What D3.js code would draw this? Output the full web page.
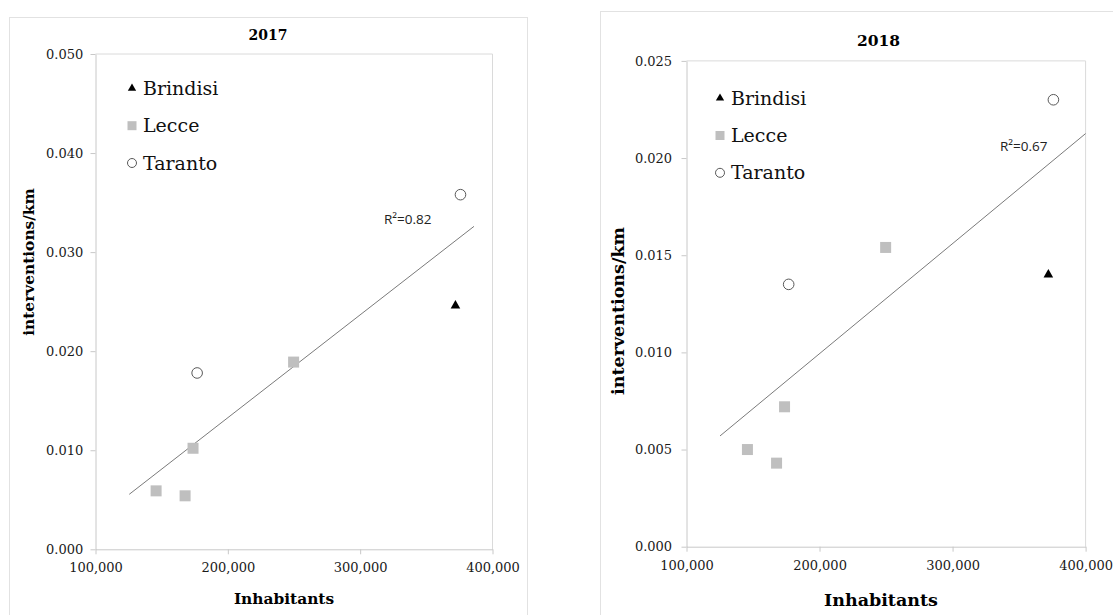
<!DOCTYPE html>
<html>
<head>
<meta charset="utf-8">
<script src="https://cdn.jsdelivr.net/npm/d3@7"></script>
<style>
  body { margin: 0; background: #fff; }
  svg { display: block; }
</style>
</head>
<body>
<script>
'use strict';

// values
const cities = ['Brindisi', 'Lecce', 'Taranto'];
const years = ['2017', '2018'];

const brindisiInhabitants = [372000];
const lecceInhabitants = [249700, 173700, 145800, 167700];
const tarantoInhabitants = [375800, 176800];

const brindisi2017 = [0.0246];
const lecce2017 = [0.0189, 0.0102, 0.0059, 0.0054];
const taranto2017 = [0.0358, 0.0178];

const brindisi2018 = [0.0140];
const lecce2018 = [0.0154, 0.0072, 0.0050, 0.0043];
const taranto2018 = [0.0230, 0.0135];

// trend line ends (x, y) as drawn in the picture
const trendX2017 = [125500, 386000];
const trendY2017 = [0.00555, 0.0326];
const trendX2018 = [125200, 400000];
const trendY2018 = [0.0057, 0.02126];
const r2Labels = ['R\u00B2=0.82', 'R\u00B2=0.67'];

const xTicks = [100000, 200000, 300000, 400000];
const yTicks2017 = [0, 0.01, 0.02, 0.03, 0.04, 0.05];
const yTicks2018 = [0, 0.005, 0.01, 0.015, 0.02, 0.025];

(function() {

  let svg;
  const serif = "'DejaVu Serif', 'Liberation Serif', serif";

  window.onload = function() {
    svg = d3.select('body')
      .append('svg')
      .attr('width', 1113)
      .attr('height', 615);

    // layout of each panel (pixels)
    let panels = [
      {
        year: years[0], yTicks: yTicks2017,
        series: [brindisi2017, lecce2017, taranto2017],
        trendX: trendX2017, trendY: trendY2017, r2: r2Labels[0],
        box: [9.5, 17.5, 518, 700],
        left: 95.5, right: 492.5, top: 54, bottom: 549.3,
        titleX: 268, titleY: 34.6, titleSize: 14,
        axisTitleSize: 15.4, yTitleX: 28.6, yTitleY: 262, xTitleX: 284, xTitleY: 599,
        yPad: 7.3, xPad: 8,
        legendX: 132, legendY: 88.4, legendGap: 37.3,
        r2X: 384, r2Y: 219
      },
      {
        year: years[1], yTicks: yTicks2018,
        series: [brindisi2018, lecce2018, taranto2018],
        trendX: trendX2018, trendY: trendY2018, r2: r2Labels[1],
        box: [600.5, 11.5, 600, 700],
        left: 686.5, right: 1085.6, top: 60.9, bottom: 546.7,
        titleX: 878.5, titleY: 40.5, titleSize: 15.5,
        axisTitleSize: 17.5, yTitleX: 618.2, yTitleY: 311, xTitleX: 881, xTitleY: 600,
        yPad: 9.4, xPad: 8.8,
        legendX: 720, legendY: 98.2, legendGap: 37.3,
        r2X: 1000, r2Y: 146
      }
    ];

    panels.forEach(drawPanel);
  };

  function drawPanel(p) {
    let g = svg.append('g');

    // outer frame of the panel
    g.append('rect')
      .attr('x', p.box[0]).attr('y', p.box[1])
      .attr('width', p.box[2]).attr('height', p.box[3])
      .attr('fill', 'none')
      .attr('stroke', '#e2e2e2');

    let xScale = d3.scaleLinear()
      .domain([100000, 400000])
      .range([p.left, p.right]);
    let yScale = d3.scaleLinear()
      .domain([0, d3.max(p.yTicks)])
      .range([p.bottom, p.top]);

    // top and right border of plot area
    g.append('path')
      .attr('d', 'M' + p.left + ',' + p.top + 'H' + p.right + 'V' + p.bottom)
      .attr('fill', 'none')
      .attr('stroke', '#dadada');

    let xAxis = d3.axisBottom(xScale)
      .tickValues(xTicks)
      .tickFormat(d3.format(','))
      .tickSizeInner(5).tickSizeOuter(0)
      .tickPadding(p.xPad);
    let xg = g.append('g')
      .attr('transform', 'translate(0,' + p.bottom + ')')
      .call(xAxis);

    let yAxis = d3.axisLeft(yScale)
      .tickValues(p.yTicks)
      .tickFormat(d3.format('.3f'))
      .tickSizeInner(5).tickSizeOuter(0)
      .tickPadding(p.yPad);
    let yg = g.append('g')
      .attr('transform', 'translate(' + p.left + ',0)')
      .call(yAxis);

    [xg, yg].forEach(function(a) {
      a.select('.domain').attr('stroke', '#c8c8c8');
      a.selectAll('.tick line').attr('stroke', '#c8c8c8');
      a.selectAll('.tick text')
        .attr('fill', '#1a1a1a')
        .style('font-family', serif)
        .style('font-size', '13px');
    });

    // titles
    g.append('text')
      .attr('x', p.titleX).attr('y', p.titleY)
      .attr('dy', '0.35em')
      .attr('text-anchor', 'middle')
      .style('font-family', serif)
      .style('font-weight', 'bold')
      .style('font-size', p.titleSize + 'px')
      .text(p.year);

    g.append('text')
      .attr('x', p.xTitleX).attr('y', p.xTitleY)
      .attr('dy', '0.35em')
      .attr('text-anchor', 'middle')
      .style('font-family', serif)
      .style('font-weight', 'bold')
      .style('font-size', p.axisTitleSize + 'px')
      .text('Inhabitants');

    g.append('text')
      .attr('transform', 'translate(' + p.yTitleX + ',' + p.yTitleY + ')rotate(-90)')
      .attr('dy', '0.35em')
      .attr('text-anchor', 'middle')
      .style('font-family', serif)
      .style('font-weight', 'bold')
      .style('font-size', p.axisTitleSize + 'px')
      .text('interventions/km');

    // trend line
    let line = d3.line()
      .x((d) => xScale(d[0]))
      .y((d) => yScale(d[1]));
    g.append('path')
      .datum(d3.zip(p.trendX, p.trendY))
      .attr('d', line)
      .attr('fill', 'none')
      .attr('stroke', '#7a7a7a')
      .attr('stroke-width', 1);

    g.append('text')
      .attr('x', p.r2X).attr('y', p.r2Y)
      .attr('dy', '0.35em')
      .style('font-family', "'Open Sans', sans-serif")
      .style('font-size', '13.5px')
      .attr('fill', '#222')
      .text(p.r2);

    // points
    let pops = [brindisiInhabitants, lecceInhabitants, tarantoInhabitants];
    let points = [];
    p.series.forEach(function(vals, i) {
      vals.forEach(function(v, j) {
        points.push({ city: cities[i], x: pops[i][j], y: v });
      });
    });

    g.selectAll('.pt')
      .data(points.filter((d) => d.city === 'Lecce'))
      .enter()
      .append('path')
        .attr('transform', (d) => 'translate(' + xScale(d.x) + ',' + yScale(d.y) + ')')
        .attr('d', d3.symbol(d3.symbolSquare, 121))
        .attr('fill', '#bfbfbf');

    g.selectAll('.pt')
      .data(points.filter((d) => d.city === 'Taranto'))
      .enter()
      .append('circle')
        .attr('cx', (d) => xScale(d.x))
        .attr('cy', (d) => yScale(d.y))
        .attr('r', 5.3)
        .attr('fill', '#fff')
        .attr('stroke', '#595959')
        .attr('stroke-width', 1);

    g.selectAll('.pt')
      .data(points.filter((d) => d.city === 'Brindisi'))
      .enter()
      .append('path')
        .attr('transform', (d) => 'translate(' + xScale(d.x) + ',' + yScale(d.y) + ')')
        .attr('d', d3.symbol(d3.symbolTriangle, 40))
        .attr('fill', '#000');

    drawLegend(g, p);
  }

  function drawLegend(g, p) {
    cities.forEach(function(c, i) {
      let y = p.legendY + i * p.legendGap;
      if (c === 'Brindisi') {
        g.append('path')
          .attr('transform', 'translate(' + p.legendX + ',' + y + ')')
          .attr('d', d3.symbol(d3.symbolTriangle, 30))
          .attr('fill', '#000');
      } else if (c === 'Lecce') {
        g.append('path')
          .attr('transform', 'translate(' + p.legendX + ',' + y + ')')
          .attr('d', d3.symbol(d3.symbolSquare, 81))
          .attr('fill', '#bfbfbf');
      } else {
        g.append('circle')
          .attr('cx', p.legendX).attr('cy', y)
          .attr('r', 4.5)
          .attr('fill', '#fff')
          .attr('stroke', '#595959');
      }
      g.append('text')
        .attr('x', p.legendX + 11).attr('y', y)
        .attr('dy', '0.35em')
        .style('font-family', serif)
        .style('font-size', '19px')
        .attr('fill', '#111')
        .text(c);
    });
  }

})();
</script>
</body>
</html>
